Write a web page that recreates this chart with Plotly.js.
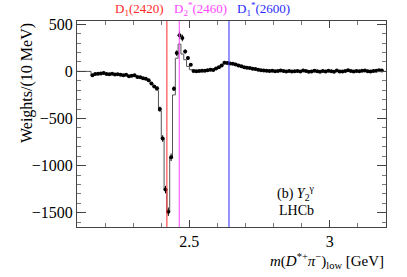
<!DOCTYPE html>
<html><head><meta charset="utf-8">
<script src="https://cdn.plot.ly/plotly-3.0.1.min.js"></script>
<style>html,body{margin:0;padding:0;background:#fff;} #chart{width:407px;height:277px;}</style>
</head><body><div id="chart"></div>
<script>
// Binning: 10 MeV bins starting at 2.15 GeV
const binStart = 2.15;
const binWidth = 0.01;

// Measured weights per bin (points)
const weights = [
  -42, -28, -25, -22, -16, -28, -30, -26, -33, -30,
  -36, -42, -35, -52, -45, -40, -60, -62, -72, -78,
  -95, -128, -160, -180, -400, -712, -1255, -1490, -912, -183,
  194, 385, 355, 211, 142, 71, 5, 2, 5, 8,
  6, 12, 18, 14, 30, 45, 62, 92, 88, 85,
  80, 72, 62, 55, 45, 40, 35, 28, 25, 18,
  12, 10, 8, 5, 8, 2, 5, 10, 3, 0,
  4, -2, 2, 5, 0, 10, 3, -5, 0, 8,
  2, -3, 5, 0, 8, 2, -3, 10, 0, -2,
  5, 12, 3, -2, 4, 2, 6, 10, 2, 0,
  4, 8, 12, 10
];
const weightErrors = [
  10, 10, 10, 10, 10, 10, 10, 10, 10, 10,
  10, 10, 10, 10, 10, 10, 10, 10, 12, 12,
  14, 15, 16, 18, 25, 35, 40, 45, 40, 25,
  30, 40, 35, 22, 18, 15, 10, 10, 10, 10,
  10, 10, 10, 10, 10, 10, 10, 10, 10, 10,
  10, 10, 10, 10, 10, 10, 10, 10, 10, 10,
  10, 10, 10, 10, 10, 10, 10, 10, 10, 10,
  10, 10, 10, 10, 10, 10, 10, 10, 10, 10,
  10, 10, 10, 10, 10, 10, 10, 10, 10, 10,
  10, 10, 10, 10, 10, 10, 10, 10, 10, 10,
  10, 10, 10, 10
];
// Model histogram (gray steps)
const modelWeights = [
  -38, -30, -26, -24, -22, -25, -28, -28, -30, -31,
  -34, -38, -40, -44, -46, -48, -55, -62, -70, -80,
  -96, -125, -160, -200, -420, -715, -1255, -1497, -915, -250,
  140, 290, 184, 124, 53, 18, 2, 3, 5, 7,
  8, 11, 15, 18, 28, 44, 62, 85, 88, 84,
  78, 70, 62, 54, 46, 39, 33, 27, 22, 17,
  13, 10, 8, 6, 5, 4, 4, 5, 4, 2,
  2, 1, 2, 3, 3, 5, 3, 1, 2, 4,
  2, 1, 3, 2, 4, 3, 2, 4, 2, 1,
  3, 5, 3, 2, 3, 3, 4, 5, 3, 2,
  4, 6, 8, 8
];

const resonanceNames = ['D<sub>1</sub>(2420)', 'D<sub>2</sub><sup>*</sup>(2460)', 'D<sub>1</sub><sup>*</sup>(2600)'];
const resonanceMasses = [2.420, 2.464, 2.641];
const resonanceColors = ['#ff2a2a', '#ff44ff', '#2a2aff'];

const xRange = [2.1, 3.2];
const yRange = [-1652, 535];

const centers = weights.map((_, i) => binStart + (i + 0.5) * binWidth);

// model step: edges with zero outside the filled bins
const modelX = [xRange[0]];
const modelY = [0];
modelWeights.forEach((v, i) => { modelX.push(binStart + i * binWidth); modelY.push(v); });
modelX.push(binStart + modelWeights.length * binWidth); modelY.push(0);
modelX.push(xRange[1]); modelY.push(0);

const serif = 'Liberation Serif';

const traces = [
  {
    x: modelX, y: modelY, type: 'scatter', mode: 'lines',
    line: {shape: 'hv', color: '#555555', width: 1},
    hoverinfo: 'skip', showlegend: false
  },
  {
    x: centers, y: weights, type: 'scatter', mode: 'markers',
    marker: {color: '#000', size: 4},
    error_y: {type: 'data', array: weightErrors, visible: true, color: '#000', thickness: 1, width: 0},
    showlegend: false
  }
];

const shapes = resonanceMasses.map((m, i) => ({
  type: 'line', xref: 'x', yref: 'paper', x0: m, x1: m, y0: 0, y1: 1,
  line: {color: resonanceColors[i], width: 1}
}));

const labelAnchors = ['right', 'left', 'left'];
const labelShifts = [-1, -7, 6];
const annotations = resonanceNames.map((t, i) => ({
  text: t, xref: 'x', yref: 'paper', x: resonanceMasses[i], y: 1,
  xanchor: labelAnchors[i], yanchor: 'bottom', xshift: labelShifts[i], yshift: 1,
  showarrow: false, font: {family: serif, size: 13, color: resonanceColors[i]}
}));
annotations.push(
  {text: 'Weights/(10 MeV)', xref: 'paper', yref: 'paper', x: 0, y: 1, xshift: -50,
   xanchor: 'center', yanchor: 'top', textangle: -90, showarrow: false,
   font: {family: serif, size: 16, color: '#000'}},
  {text: '<i>m</i>(<i>D</i><sup>*+</sup><i>π</i><sup>−</sup>)<sub>low</sub> [GeV]', xref: 'paper', yref: 'paper',
   x: 1, y: 0, yshift: -22, xanchor: 'right', yanchor: 'top', showarrow: false,
   font: {family: serif, size: 15, color: '#000'}},
  {text: '(b) <i>Y</i><sub>2</sub><sup>γ</sup>', xref: 'x', yref: 'y', x: 2.88, y: -1290,
   xanchor: 'center', yanchor: 'middle', showarrow: false,
   font: {family: serif, size: 14, color: '#000'}},
  {text: 'LHCb', xref: 'x', yref: 'y', x: 2.88, y: -1480,
   xanchor: 'center', yanchor: 'middle', showarrow: false,
   font: {family: serif, size: 14, color: '#000'}}
);

const layout = {
  width: 407, height: 277,
  margin: {l: 77, r: 21, t: 21, b: 50, pad: 0},
  paper_bgcolor: '#fff', plot_bgcolor: '#fff',
  font: {family: serif, size: 15, color: '#000'},
  xaxis: {
    range: xRange, dtick: 0.5, tick0: 0, ticks: 'inside', ticklen: 7,
    showline: true, linecolor: '#444', linewidth: 1, mirror: 'ticks',
    showgrid: false, zeroline: false, tickcolor: '#444',
    minor: {dtick: 0.1, tick0: 2.1, ticks: 'inside', ticklen: 4, tickcolor: '#777', showgrid: false},
    tickfont: {family: serif, size: 16, color: '#000'}
  },
  yaxis: {
    range: yRange, dtick: 500, tick0: 0, ticks: 'inside', ticklen: 9,
    showline: true, linecolor: '#444', linewidth: 1, mirror: 'ticks',
    showgrid: false, zeroline: false, tickcolor: '#444',
    minor: {dtick: 100, tick0: 0, ticks: 'inside', ticklen: 4, tickcolor: '#777', showgrid: false},
    tickfont: {family: serif, size: 16, color: '#000'}
  },
  shapes: shapes,
  annotations: annotations,
  showlegend: false
};

Plotly.newPlot('chart', traces, layout, {displayModeBar: false, staticPlot: true});
</script>
</body></html>
